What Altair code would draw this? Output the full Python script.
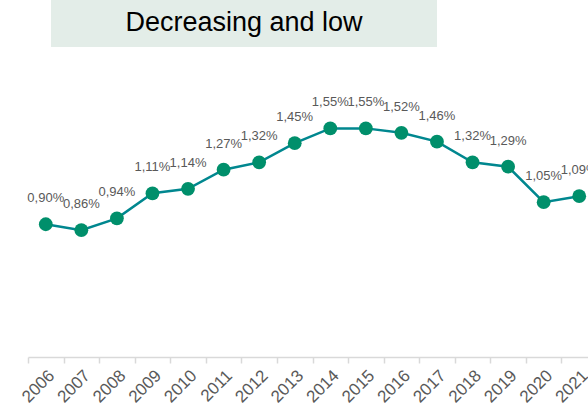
import altair as alt
import pandas as pd

# Share of the year (in %), one value per year
years = ["2006", "2007", "2008", "2009", "2010", "2011", "2012", "2013",
         "2014", "2015", "2016", "2017", "2018", "2019", "2020", "2021"]
values = [0.90, 0.86, 0.94, 1.11, 1.14, 1.27, 1.32, 1.45,
          1.55, 1.55, 1.52, 1.46, 1.32, 1.29, 1.05, 1.09]
title_text = ["Decreasing and low"]

df = pd.DataFrame({"year": years, "value": values})

LINE = "#00878F"
DOT = "#008F6B"
LABEL = "#595959"
FONT = "Liberation Sans"

x = alt.X(
    "year:N",
    sort=years,
    scale=alt.Scale(range=[0, 569], paddingInner=0, paddingOuter=0),
    axis=alt.Axis(
        title=None,
        labelAngle=-45,
        labelAlign="right",
        labelBaseline="top",
        labelFontSize=17,
        labelColor=LABEL,
        labelFont=FONT,
        labelPadding=4,
        labelOverlap=False,
        labelBound=False,
        labelFlush=False,
        tickBand="extent",
        tickColor="#D9D9D9",
        tickSize=6,
        domainColor="#D9D9D9",
        domainWidth=1.5,
        tickWidth=1.5,
        grid=False,
    ),
)
y = alt.Y("value:Q", scale=alt.Scale(domain=[0, 2], nice=False, zero=True), axis=None)

base = alt.Chart(df).encode(x=x, y=y)

line = base.mark_line(color=LINE, strokeWidth=2.5, clip=False)
dots = base.mark_circle(size=190, color=DOT, opacity=1, clip=False)
labels = base.transform_calculate(
    label="replace(format(datum.value, '.2f'), '.', ',') + '%'"
).mark_text(
    dy=-26, fontSize=13, font=FONT, color=LABEL, baseline="middle", clip=False
).encode(text="label:N")

# Heading banner above the plot
banner_df = pd.DataFrame({"t": title_text})
banner = alt.Chart(banner_df).mark_rect(color="#E3EDE8", clip=False).encode(
    x=alt.value(23), x2=alt.value(409), y=alt.value(-62), y2=alt.value(-15)
)
banner_text = alt.Chart(banner_df).mark_text(
    fontSize=27, font=FONT, color="#000000", align="center", baseline="middle", clip=False
).encode(x=alt.value(216), y=alt.value(-39), text="t:N")

chart = alt.layer(banner, banner_text, line, dots, labels).properties(
    width=560,
    height=295,
    autosize=alt.AutoSizeParams(type="none"),
    padding={"left": 28, "top": 62, "right": 0, "bottom": 52},
).configure_view(stroke=None)

chart.save("out.html", embed_options={"renderer": "svg", "actions": False})
